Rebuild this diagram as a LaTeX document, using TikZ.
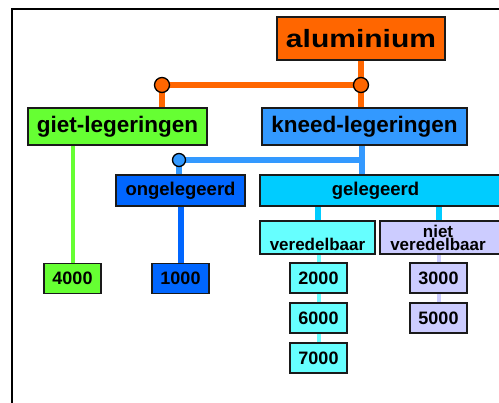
\documentclass[tikz,border=0pt]{standalone}
\usepackage{fontspec}
\setmainfont{Liberation Sans}
\usepackage{graphicx}
\usepackage{tikz}
\usetikzlibrary{backgrounds}
\definecolor{edge}{HTML}{1A1A1A}
\definecolor{alu}{HTML}{FF6600}
\definecolor{giet}{HTML}{66FF33}
\definecolor{kneed}{HTML}{3399FF}
\definecolor{onge}{HTML}{0066FF}
\definecolor{geleg}{HTML}{00CCFF}
\definecolor{vered}{HTML}{66FFFF}
\definecolor{niet}{HTML}{CCCCFF}
\tikzset{
  box/.style={draw=edge, line width=1.3pt, inner sep=0pt, text=black},
  big/.style={font=\bfseries\fontsize{25}{25}\selectfont},
  mid/.style={font=\bfseries\fontsize{22.5}{24}\selectfont},
  sml/.style={font=\bfseries\fontsize{18.5}{20}\selectfont},
  two/.style={font=\bfseries\fontsize{17}{13}\selectfont, align=center},
  num/.style={box, minimum width=57pt, minimum height=30pt, font=\bfseries\fontsize{18}{18}\selectfont},
  wire/.style={line width=6pt},
  thin/.style={line width=4pt},
  joint/.style={circle, draw=black, line width=1.3pt, inner sep=0pt},
  frame/.style={draw=black, line width=1.3pt},
}

\begin{document}
\begin{tikzpicture}[x=1pt, y=-1pt]
  \useasboundingbox (0,0) rectangle (499,403);
  \clip (0,0) rectangle (499,403);
  \draw[frame] (12,420) -- (12,9) -- (520,9);
  % boxes
  \node[box, big, fill=alu, minimum width=168pt, minimum height=43pt] (alu) at (361,38.5) {\scalebox{1.2}[1]{aluminium}};
  \node[box, mid, fill=giet, minimum width=179pt, minimum height=37pt] (giet) at (117.5,126.5) {giet-legeringen};
  \node[box, mid, fill=kneed, minimum width=205pt, minimum height=37pt] (kneed) at (364.5,126.5) {kneed-legeringen};
  \node[box, sml, fill=onge, minimum width=129pt, minimum height=31pt] (onge) at (180.5,190.5) {ongelegeerd};
  \node[box, sml, fill=geleg, minimum width=260pt, minimum height=31pt] (geleg) at (390,190.5) {gelegeerd\hspace*{29pt}};
  \node[box, two, fill=vered, minimum width=115pt, minimum height=33pt] (ver) at (317.5,237.5) {\phantom{niet}\\veredelbaar};
  \node[box, two, fill=niet, minimum width=140pt, minimum height=33pt] (niet) at (450,237.5) {niet\hspace*{24pt}\\veredelbaar\hspace*{24pt}};
  \node[num, fill=giet] (n4000) at (72.5,278.5) {4000};
  \node[num, fill=onge] (n1000) at (180.5,278.5) {1000};
  \node[num, fill=vered] (n2000) at (318.5,278) {2000};
  \node[num, fill=vered] (n6000) at (318.5,318) {6000};
  \node[num, fill=vered] (n7000) at (318.5,358) {7000};
  \node[num, fill=niet] (n3000) at (438.5,278) {3000};
  \node[num, fill=niet] (n5000) at (438.5,318) {5000};
  % junctions
  \coordinate (j1) at (162,85);
  \coordinate (j2) at (361,85);
  \coordinate (j3) at (179,160);
  \coordinate (j4) at (362,160);
  \begin{scope}[on background layer]
    \draw[wire, alu] (alu) -- (j2 |- kneed);
    \draw[wire, alu] (j1 |- giet) -- (j1) -- (j2);
    \draw[thin, giet] (n4000 |- giet) -- (n4000);
    \draw[wire, kneed] (kneed -| j4) -- (j4 |- geleg);
    \draw[wire, kneed] (j3 |- onge) -- (j3) -- (j4);
    \draw[wire, onge] (onge) -- (n1000);
    \draw[wire, geleg] (ver |- geleg) -- (ver);
    \draw[wire, geleg] (n3000 |- geleg) -- (n3000 |- niet);
    \draw[thin, vered] (n2000 |- ver) -- (n7000);
    \draw[thin, niet] (n3000 |- niet) -- (n5000);
  \end{scope}
  \node[joint, fill=alu, minimum size=15pt] (j1c) at (j1) {};
  \node[joint, fill=alu, minimum size=15pt] (j2c) at (j2) {};
  \node[joint, fill=kneed, minimum size=13pt] (j3c) at (j3) {};
\end{tikzpicture}
\end{document}
